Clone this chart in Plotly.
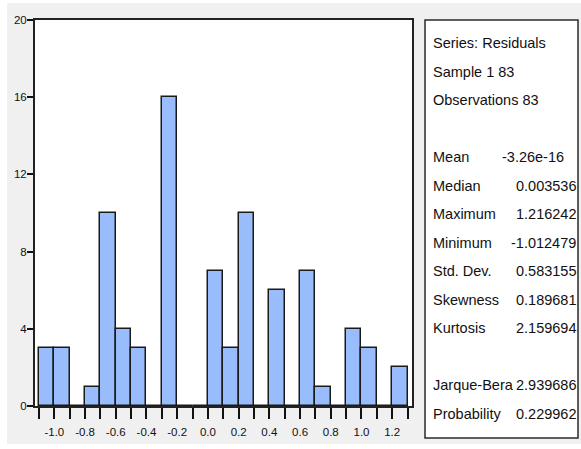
import plotly.graph_objects as go

# Histogram of residuals: lower bin edges and counts (bin width 0.1)
bin_starts = [-1.1, -1.0, -0.9, -0.8, -0.7, -0.6, -0.5, -0.4, -0.3, -0.2, -0.1,
              0.0, 0.1, 0.2, 0.3, 0.4, 0.5, 0.6, 0.7, 0.8, 0.9, 1.0, 1.1, 1.2]
counts = [3, 3, 0, 1, 10, 4, 3, 0, 16, 0, 0, 7, 3, 10, 0, 6, 0, 7, 1, 0, 4, 3, 0, 2]
bin_width = 0.1

y_ticks = [0, 4, 8, 12, 16, 20]

header_lines = ["Series: Residuals", "Sample 1 83", "Observations 83"]
stat_names = ["Mean", "Median", "Maximum", "Minimum", "Std. Dev.", "Skewness", "Kurtosis"]
stat_values = ["-3.26e-16", "0.003536", "1.216242", "-1.012479", "0.583155", "0.189681", "2.159694"]
test_names = ["Jarque-Bera", "Probability"]
test_values = ["2.939686", "0.229962"]

# Canvas geometry (pixels)
W, H = 581, 449
L, R, T, B = 35, 169, 20, 43
PW = W - L - R
PH = H - T - B


def px(x):
    return (x - L) / PW


def py(y):
    return (H - B - y) / PH


FONT = "Liberation Sans, Arial, sans-serif"
INK = "#111111"
STAT_SIZE = 14.5
TICK_SIZE = 11.5

centers = [s + bin_width / 2 for s in bin_starts]
edges = [round(s, 1) for s in bin_starts] + [round(bin_starts[-1] + bin_width, 1)]
edge_text = []
for e in edges:
    if round(e * 10) % 2 == 0:
        edge_text.append(f"{e:.1f}")
    else:
        edge_text.append("")

fig = go.Figure()
fig.add_trace(go.Bar(
    x=centers, y=counts, width=bin_width,
    marker=dict(color="#98bcfc", line=dict(color="#1a1a1a", width=1.5)),
    hoverinfo="x+y",
))

shapes = [
    # grey window panel
    dict(type="rect", xref="paper", yref="paper", layer="below",
         x0=px(7), x1=px(W + 5), y0=py(444), y1=py(3),
         fillcolor="#f0f0f0", line=dict(width=0)),
    # white plotting area
    dict(type="rect", xref="paper", yref="paper", layer="below",
         x0=0, x1=1, y0=0, y1=1, fillcolor="white", line=dict(width=0)),
    # statistics box
    dict(type="rect", xref="paper", yref="paper", layer="below",
         x0=px(425), x1=px(578), y0=py(438), y1=py(20),
         fillcolor="white", line=dict(color="#2a2a2a", width=1.5)),
]

annotations = []
step = 28.5
top = 43


def row_y(i):
    return py(top + step * i)


def add_text(text, x, y, anchor):
    annotations.append(dict(
        text=text, xref="paper", yref="paper", x=x, y=y,
        xanchor=anchor, yanchor="middle", showarrow=False,
        font=dict(family=FONT, size=STAT_SIZE, color=INK),
    ))


for i, line in enumerate(header_lines):
    add_text(line, px(431), row_y(i), "left")
for j, (name, val) in enumerate(zip(stat_names, stat_values)):
    add_text(name, px(431), row_y(4 + j), "left")
    xr = 566 if "e-" in val else 578
    add_text(val, px(xr), row_y(4 + j), "right")
for j, (name, val) in enumerate(zip(test_names, test_values)):
    add_text(name, px(431), row_y(12 + j), "left")
    add_text(val, px(578), row_y(12 + j), "right")

fig.update_layout(
    width=W, height=H, autosize=False,
    margin=dict(l=L, r=R, t=T, b=B, pad=0),
    paper_bgcolor="white", plot_bgcolor="white",
    showlegend=False, bargap=0,
    shapes=shapes, annotations=annotations,
    font=dict(family=FONT, color=INK),
)
fig.update_xaxes(
    range=[-1.126, 1.329], tickmode="array", tickvals=edges, ticktext=edge_text,
    ticks="outside", ticklen=11, tickwidth=1.5, tickcolor=INK,
    tickfont=dict(family=FONT, size=TICK_SIZE, color=INK),
    ticklabelstandoff=3,
    showline=True, mirror=True, linecolor="#222222", linewidth=2,
    showgrid=False, zeroline=False, fixedrange=True,
)
fig.update_yaxes(
    range=[0, 20], tickmode="array", tickvals=y_ticks,
    ticks="outside", ticklen=6, tickwidth=1.5, tickcolor=INK,
    tickfont=dict(family=FONT, size=TICK_SIZE, color=INK),
    ticklabelstandoff=-2,
    showline=True, mirror=True, linecolor="#222222", linewidth=2,
    showgrid=False, zeroline=False, fixedrange=True,
)

fig.write_html("out.html")
